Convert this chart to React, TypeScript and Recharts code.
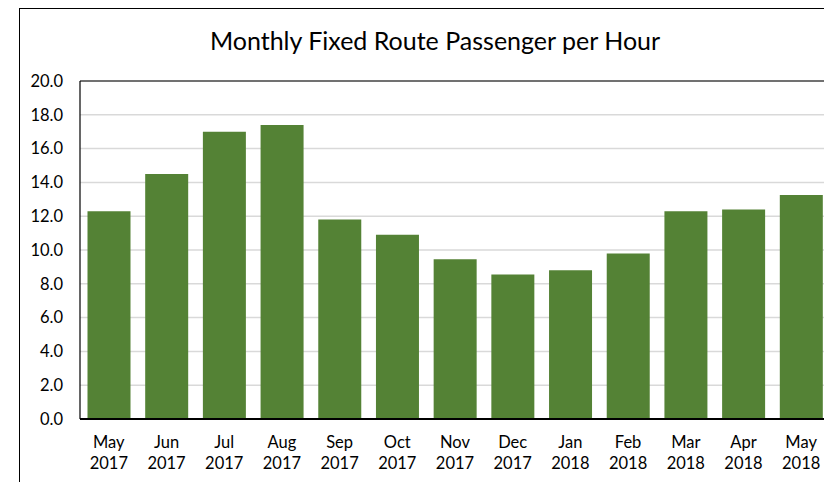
import React from "react";
import { BarChart, Bar, XAxis, YAxis, CartesianGrid, ReferenceLine } from "recharts";

const months = ["May", "Jun", "Jul", "Aug", "Sep", "Oct", "Nov", "Dec", "Jan", "Feb", "Mar", "Apr", "May"];
const years = ["2017", "2017", "2017", "2017", "2017", "2017", "2017", "2017", "2018", "2018", "2018", "2018", "2018"];
const passengersPerHour = [12.3, 14.5, 17.0, 17.4, 11.8, 10.9, 9.45, 8.55, 8.8, 9.8, 12.3, 12.4, 13.25];
const yTicks = [0, 2, 4, 6, 8, 10, 12, 14, 16, 18, 20];
const title = "Monthly Fixed Route Passenger per Hour";

const data = months.map((m, i) => ({
  key: `${m} ${years[i]}`,
  month: m,
  year: years[i],
  value: passengersPerHour[i],
}));

const FONT = "Lato, 'Open Sans', sans-serif";

const XTick = (props: any) => {
  const { x, y, index } = props;
  const d = data[index];
  if (!d) return null;
  return (
    <g>
      <text x={x} y={y + 29} textAnchor="middle" fontFamily={FONT} fontSize={16.5} fill="#000">
        {d.month}
      </text>
      <text x={x} y={y + 50} textAnchor="middle" fontFamily={FONT} fontSize={16.5} fill="#000">
        {d.year}
      </text>
    </g>
  );
};

export default function App() {
  return (
    <div
      style={{
        position: "fixed",
        left: 0,
        top: 0,
        width: 824,
        height: 482,
        overflow: "hidden",
        background: "#fff",
      }}
    >
      <div
        style={{
          position: "absolute",
          left: 19,
          top: 8,
          width: 832,
          height: 520,
          border: "1px solid #000",
          boxSizing: "border-box",
        }}
      />
      <div
        style={{
          position: "absolute",
          left: 0,
          top: 25,
          width: 870,
          textAlign: "center",
          fontFamily: FONT,
          fontSize: 25,
          lineHeight: "30px",
          color: "#000",
          whiteSpace: "nowrap",
        }}
      >
        {title}
      </div>
      <div style={{ position: "absolute", left: 0, top: 0 }}>
        <BarChart
          width={860}
          height={482}
          data={data}
          margin={{ top: 81, right: 30, left: 0, bottom: 0 }}
          barCategoryGap="13%"
        >
          <CartesianGrid vertical={false} stroke="#d9d9d9" strokeWidth={1.5} />
          <XAxis
            dataKey="key"
            height={63}
            axisLine={{ stroke: "#000", strokeWidth: 2 }}
            tickLine={false}
            tickSize={0}
            tickMargin={0}
            interval={0}
            tick={<XTick />}
          />
          <YAxis
            width={80}
            domain={[0, 20]}
            ticks={yTicks}
            interval={0}
            tickFormatter={(v: number) => v.toFixed(1)}
            axisLine={{ stroke: "#000", strokeWidth: 1.2 }}
            tickLine={false}
            tickSize={0}
            tickMargin={17}
            tick={{ fill: "#000", fontSize: 16.5, fontFamily: FONT }}
          />
          <ReferenceLine y={20} stroke="#000" strokeWidth={1.2} />
          <Bar dataKey="value" fill="#548235" isAnimationActive={false} />
        </BarChart>
      </div>
    </div>
  );
}
